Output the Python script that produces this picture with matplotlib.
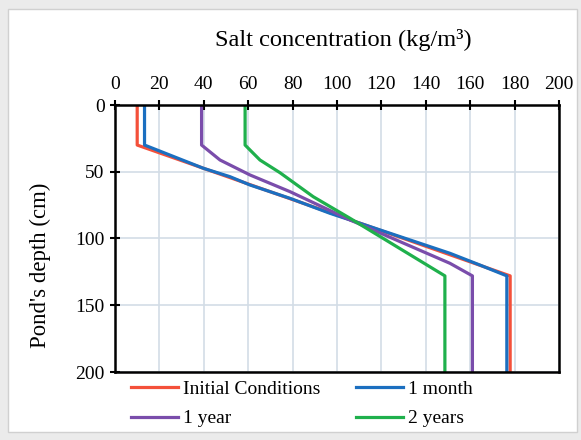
import matplotlib
matplotlib.use("Agg")
import matplotlib.pyplot as plt
from matplotlib.patches import Rectangle

# Depth profiles of salt concentration in the pond
initial_depth = [0, 30, 128, 200]
initial_conc = [10, 10, 178, 178]

month_depth = [0, 30, 47.4, 53.7, 59.9, 69.9, 81.1, 86.1, 111.1, 119.9, 128, 200]
month_conc = [13.3, 13.3, 39.8, 51.8, 60.8, 78.8, 96.8, 105.9, 150.9, 164.4, 176.5, 176.5]

year_depth = [0, 30, 41.2, 52.4, 64.9, 86.1, 118.6, 128, 200]
year_conc = [39, 39, 47.3, 60.8, 78.8, 105.9, 150.9, 161, 161]

two_year_depth = [0, 30, 36.2, 41.2, 50.7, 68.7, 84.9, 128, 200]
two_year_conc = [58.6, 58.6, 62.3, 65.3, 74.3, 89.3, 105.9, 148.6, 148.6]

series_labels = ["Initial Conditions", "1 month", "1 year", "2 years"]
series_colors = ["#f4503a", "#1b6fc0", "#7a4dab", "#1fb04c"]

x_ticks = list(range(0, 201, 20))
y_ticks = list(range(0, 201, 50))

plt.rcParams["font.family"] = ["Liberation Serif", "DejaVu Serif"]

W, H = 581, 440
fig = plt.figure(figsize=(W / 100, H / 100), dpi=100, facecolor="#ebebeb")
fig.patches.append(Rectangle((8 / W, 1 - 432 / H), (577 - 8) / W, (432 - 9) / H,
                             transform=fig.transFigure, facecolor="white",
                             edgecolor="#d0d0d0", linewidth=1, zorder=-5))

ax = fig.add_axes([115 / W, 1 - 372 / H, (559 - 115) / W, (372 - 105) / H])
ax.set_facecolor("white")

data = [(initial_conc, initial_depth), (month_conc, month_depth),
        (year_conc, year_depth), (two_year_conc, two_year_depth)]
handles = []
for (xs, ys), lab, col in zip(data, series_labels, series_colors):
    h, = ax.plot(xs, ys, color=col, linewidth=2.3, label=lab, solid_joinstyle="round")
    handles.append(h)

ax.set_xlim(0, 200)
ax.set_ylim(200, 0)
ax.set_xticks(x_ticks)
ax.set_yticks(y_ticks)
ax.xaxis.tick_top()
ax.tick_params(axis="both", direction="inout", length=7, width=1.5,
               labelsize=14, colors="black", pad=4)
ax.tick_params(axis="x", pad=5)
ax.grid(True, color="#d3dde6", linewidth=1.2)
ax.set_axisbelow(True)
for sp in ax.spines.values():
    sp.set_linewidth(1.8)
    sp.set_color("black")

fig.text(343 / W, 1 - 40 / H, "Salt concentration (kg/m³)", fontsize=17.6,
         ha="center", va="center")
fig.text(40 / W, 1 - 265 / H, "Pond's depth (cm)", fontsize=16.4,
         ha="center", va="center", rotation=90)

# legend filled row by row: two entries per row
order = [0, 2, 1, 3]
fig.legend(handles=[handles[i] for i in order],
           labels=[series_labels[i] for i in order], ncol=2, frameon=False,
           loc="upper left", bbox_to_anchor=(113 / W, 1 - 363 / H),
           fontsize=14, handlelength=2.42, handletextpad=0.26,
           columnspacing=1.85, labelspacing=0.6)

fig.savefig("out.png", dpi=100, facecolor=fig.get_facecolor())
